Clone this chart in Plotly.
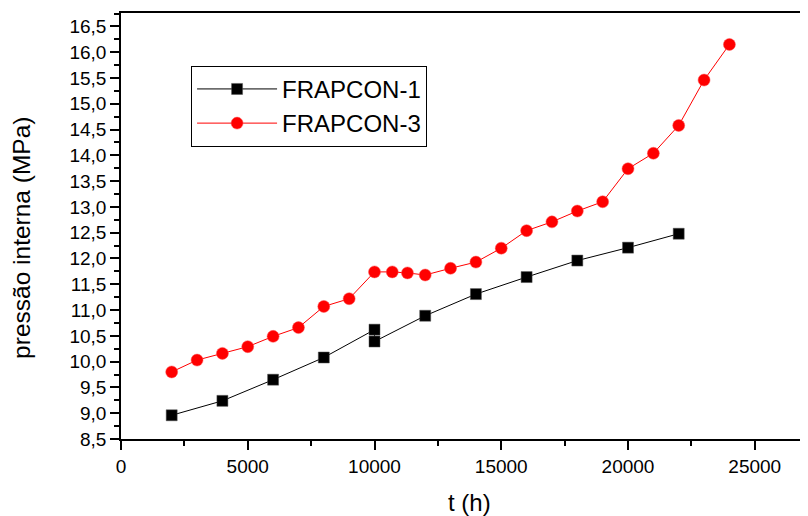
import plotly.graph_objects as go

# FRAPCON-1 data
t_f1 = [2000, 4000, 6000, 8000, 10000, 10000, 12000, 14000, 16000, 18000, 20000, 22000]
p_f1 = [8.96, 9.24, 9.65, 10.08, 10.62, 10.39, 10.89, 11.31, 11.64, 11.96, 12.21, 12.48]

# FRAPCON-3 data
t_f3 = [2000, 3000, 4000, 5000, 6000, 7000, 8000, 9000, 10000, 10700, 11300, 12000,
        13000, 14000, 15000, 16000, 17000, 18000, 19000, 20000, 21000, 22000, 23000, 24000]
p_f3 = [9.80, 10.03, 10.16, 10.29, 10.49, 10.66, 11.07, 11.22, 11.74, 11.74, 11.72, 11.68,
        11.81, 11.93, 12.20, 12.54, 12.71, 12.92, 13.10, 13.74, 14.04, 14.58, 15.46, 16.15]

series_names = ["FRAPCON-1", "FRAPCON-3"]
x_title = "t (h)"
y_title = "pressão interna (MPa)"

FONT = "Liberation Sans, Arial, sans-serif"

fig = go.Figure()
fig.add_trace(go.Scatter(
    x=t_f1, y=p_f1, mode="lines+markers", name=series_names[0], legendgroup="a",
    line=dict(color="black", width=1),
    marker=dict(symbol="square", size=11, color="black", line=dict(color="#555", width=0.5)),
))
fig.add_trace(go.Scatter(
    x=t_f3, y=p_f3, mode="lines+markers", name=series_names[1], legendgroup="b",
    line=dict(color="#ff0000", width=1),
    marker=dict(symbol="circle", size=12, color="#ff0000", line=dict(color="#ff5555", width=0.5)),
))

fig.update_layout(
    width=800, height=508,
    margin=dict(l=113, r=0, t=5, b=77, autoexpand=False),
    paper_bgcolor="white", plot_bgcolor="white",
    font=dict(family=FONT, color="black", size=19),
    separators=",.",
    showlegend=True,
    legend=dict(
        x=0.102, y=0.876, xanchor="left", yanchor="top",
        bgcolor="white", bordercolor="black", borderwidth=1,
        font=dict(size=24, family=FONT),
        tracegroupgap=0,
        itemwidth=80,
    ),
    xaxis=dict(
        range=[0, 27100], showgrid=False, zeroline=False, automargin=False,
        showline=True, linecolor="black", linewidth=1.5, mirror=True,
        ticks="outside", ticklen=9, tickwidth=1.5, tickcolor="black",
        tickmode="linear", tick0=0, dtick=5000, tickformat="d",
        minor=dict(ticks="outside", ticklen=5, tickwidth=1.5, tickcolor="black", dtick=2500, showgrid=False),
        tickfont=dict(size=19),
    ),
    yaxis=dict(
        range=[8.5, 16.76], showgrid=False, zeroline=False, automargin=False,
        showline=True, linecolor="black", linewidth=1.5, mirror=False,
        ticks="outside", ticklen=9, tickwidth=1.5, tickcolor="black",
        tickmode="linear", tick0=8.5, dtick=0.5, tickformat=".1f",
        minor=dict(ticks="outside", ticklen=5, tickwidth=1.5, tickcolor="black", dtick=0.25, showgrid=False),
        tickfont=dict(size=19),
    ),
    annotations=[
        dict(text=x_title, xref="paper", yref="paper", x=0.507, y=-0.150,
             xanchor="center", yanchor="middle", showarrow=False, font=dict(size=24)),
        dict(text=y_title, xref="paper", yref="paper", x=-0.145, y=0.473,
             xanchor="center", yanchor="middle", showarrow=False, textangle=-90,
             font=dict(size=24.5)),
    ],
)

fig.write_html("out.html")
